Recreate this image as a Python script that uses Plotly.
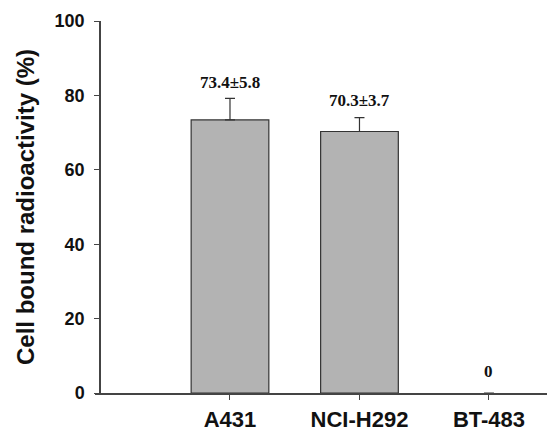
import plotly.graph_objects as go

categories = ["A431", "NCI-H292", "BT-483"]
values = [73.4, 70.3, 0]
errors = [5.8, 3.7, 0]
labels = ["73.4±5.8", "70.3±3.7", "0"]
y_ticks = [0, 20, 40, 60, 80, 100]

label_shift = [4, 6, 10]

fig = go.Figure()
fig.add_trace(go.Bar(
    x=categories, y=values, width=0.6,
    marker=dict(color="#b3b3b3",
                line=dict(color="#333333", width=[1.2 if v > 0 else 0 for v in values])),
    error_y=dict(type="data", array=errors, arrayminus=[0]*len(errors), symmetric=False,
                 thickness=1.2, width=5, color="#333333"),
    showlegend=False,
))

for c, v, e, t, s in zip(categories, values, errors, labels, label_shift):
    fig.add_annotation(x=c, y=v + e, text="<b>" + t + "</b>", showarrow=False, yanchor="bottom", yshift=s,
                       font=dict(family="Liberation Serif", size=17, color="#111111"))

fig.update_layout(
    width=547, height=424,
    margin=dict(l=87, r=0, t=13, b=39, autoexpand=False),
    paper_bgcolor="white", plot_bgcolor="white",
    bargap=0.4,
)
fig.update_xaxes(
    range=[-1.0425, 2.51], showline=True, linecolor="#444444", linewidth=1.5,
    ticks="outside", ticklen=5, tickcolor="#444444", tickwidth=1,
    tickfont=dict(family="Liberation Sans", size=22, color="#111111", weight="bold"),
    showgrid=False, zeroline=False, ticklabelstandoff=1, automargin=False,
)
fig.update_yaxes(
    range=[0, 100], tickvals=y_ticks, showline=True, linecolor="#444444", linewidth=1.5,
    ticks="outside", ticklen=5, tickcolor="#444444", tickwidth=1,
    tickfont=dict(family="Liberation Sans", size=18, color="#111111", weight="bold"),
    showgrid=False, zeroline=False, anchor="free", position=5/460,
    title=dict(text="Cell bound radioactivity (%)", standoff=12,
               font=dict(family="Liberation Sans", size=24, color="#111111", weight="bold")),
    ticklabelstandoff=6, automargin=False,
)

fig.write_html("out.html")
